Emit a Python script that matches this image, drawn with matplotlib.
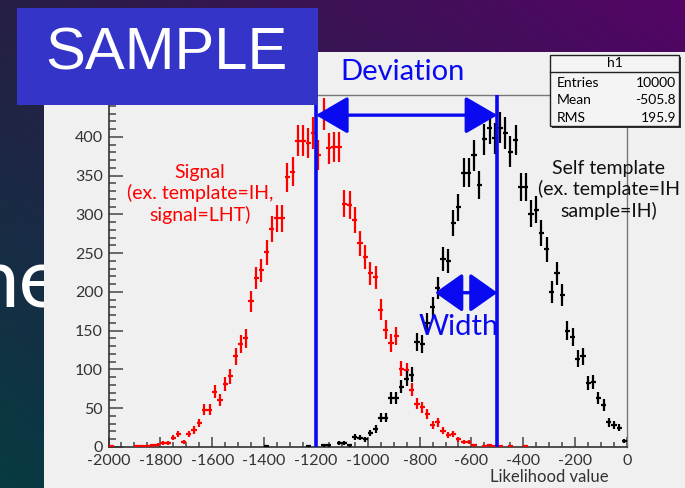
import numpy as np
import matplotlib.pyplot as plt
from matplotlib.patches import Rectangle
from matplotlib.lines import Line2D
from matplotlib.ticker import MultipleLocator

plt.rcParams['font.family'] = ['Lato', 'DejaVu Sans']
plt.rcParams['axes.unicode_minus'] = False

# histogram binning: 100 bins from -2000 to 0
bin_lo, bin_hi, n_bins = -2000, 0, 100

# counts per bin (first bin = -2000..-1980)
signal = [1, 0, 0, 0, 0, 1, 1, 1, 2, 3,
          5, 5, 12, 17, 7, 17, 22, 31, 48, 48,
          71, 60, 81, 91, 117, 133, 140, 188, 218, 228,
          251, 281, 295, 295, 348, 355, 395, 395, 392, 405,
          377, 430, 385, 387, 387, 314, 312, 293, 263, 245,
          224, 219, 177, 151, 134, 143, 101, 99, 74, 56,
          51, 42, 28, 32, 21, 15, 17, 10, 7, 7,
          2, 0, 1, 2, 1, 1, 0, 1, 0, 0,
          1, 0, 0, 0, 0, 0, 0, 0, 0, 0,
          0, 0, 0, 0, 0, 0, 0, 0, 0, 0]

self_template = [0, 0, 0, 0, 0, 0, 0, 0, 0, 0,
                 0, 0, 0, 0, 0, 0, 0, 0, 0, 0,
                 0, 0, 0, 0, 0, 0, 0, 0, 0, 0,
                 1, 0, 0, 0, 0, 0, 0, 0, 1, 0,
                 0, 2, 2, 0, 5, 5, 2, 13, 12, 10,
                 18, 23, 38, 38, 63, 63, 78, 88, 93, 136,
                 133, 160, 180, 205, 242, 240, 289, 309, 354, 354,
                 376, 338, 397, 411, 398, 412, 405, 381, 396, 335,
                 335, 301, 306, 276, 255, 200, 224, 196, 150, 142,
                 114, 117, 82, 84, 63, 54, 32, 28, 25, 8]

# annotation positions (data units)
dev_lo, dev_hi = -1200, -500
dev_arrow_y = 428
width_lo = -740
width_arrow_y = 199

stats_title = 'h1'
stats_names = ['Entries', 'Mean', 'RMS']
stats_values = ['10000', '-505.8', '195.9']

W, H = 685, 488
BLUE = '#0a0af0'
fig = plt.figure(figsize=(W / 100, H / 100), dpi=100)


def fx(px):
    return px / W


def fy(py):
    return 1 - py / H


# slide background
bg = fig.add_axes([0, 0, 1, 1], zorder=-5)
bg.set_xlim(0, W)
bg.set_ylim(H, 0)
bg.axis('off')
gx, gy = np.meshgrid(np.linspace(0, 1, 64), np.linspace(0, 1, 64))
gx, gy = gx[..., None], gy[..., None]
tl = np.array([0.15, 0.12, 0.27])
tr = np.array([0.33, 0.02, 0.40])
bl = np.array([0.03, 0.23, 0.26])
br = np.array([0.10, 0.10, 0.30])
img = tl * (1 - gx) * (1 - gy) + tr * gx * (1 - gy) + bl * (1 - gx) * gy + br * gx * gy
bg.imshow(img, extent=[0, W, H, 0], aspect='auto', interpolation='bilinear')
bg.text(63, 308, 'ne', color='white', fontsize=60, ha='right', va='baseline', zorder=2)
bg.add_patch(Rectangle((44, 52), W - 44, H - 52, fc='#f0f0f0', ec='none', zorder=5))

# histogram axes
ax = fig.add_axes([fx(108.5), fy(447), (627 - 108.5) / W, (447 - 95) / H])
ax.patch.set_visible(False)

edges = np.linspace(bin_lo, bin_hi, n_bins + 1)
centers = 0.5 * (edges[:-1] + edges[1:])
half = 0.5 * (edges[1] - edges[0])
for counts, col in [(signal, '#ff0000'), (self_template, 'black')]:
    c = np.array(counts, dtype=float)
    m = c > 0
    ax.errorbar(centers[m], c[m], yerr=np.sqrt(c[m]), xerr=half, fmt='none',
                ecolor=col, elinewidth=1.6, capsize=0, zorder=3)

ax.set_xlim(bin_lo, bin_hi)
ax.set_ylim(0, 454)

ax.axvline(dev_lo, color=BLUE, lw=2.6, zorder=4)
ax.axvline(dev_hi, color=BLUE, lw=2.6, zorder=4)
ax.annotate('', xy=(dev_lo, dev_arrow_y), xytext=(dev_hi, dev_arrow_y),
            arrowprops=dict(arrowstyle='<|-|>,head_length=1.0,head_width=0.58',
                            mutation_scale=20, color=BLUE, lw=2.4,
                            shrinkA=0, shrinkB=0), zorder=5)
ax.annotate('', xy=(width_lo, width_arrow_y), xytext=(dev_hi, width_arrow_y),
            arrowprops=dict(arrowstyle='<|-|>,head_length=0.85,head_width=0.6',
                            mutation_scale=20, color=BLUE, lw=2.4,
                            shrinkA=0, shrinkB=0), zorder=5)

ax.xaxis.set_major_locator(MultipleLocator(200))
ax.xaxis.set_minor_locator(MultipleLocator(50))
ax.yaxis.set_major_locator(MultipleLocator(50))
ax.yaxis.set_minor_locator(MultipleLocator(10))
ax.tick_params(axis='both', which='both', direction='in', colors='#444444',
               labelcolor='#333333', labelsize=11.5, width=1.1)
ax.tick_params(axis='x', which='major', length=7.5, pad=5)
ax.tick_params(axis='x', which='minor', length=3.8)
ax.tick_params(axis='y', which='major', length=10, pad=4)
ax.tick_params(axis='y', which='minor', length=5)
for s in ['left', 'bottom']:
    ax.spines[s].set_color('#333333')
    ax.spines[s].set_linewidth(1.2)
for s in ['top', 'right']:
    ax.spines[s].set_color('#777777')
    ax.spines[s].set_linewidth(1.0)

fig.text(fx(609), fy(477), 'Likelihood value', ha='right', va='center',
         fontsize=12, color='#333333')

# labels
fig.text(fx(403), fy(72), 'Deviation', ha='center', va='center', fontsize=21, color=BLUE)
fig.text(fx(459), fy(327), 'Width', ha='center', va='center', fontsize=21, color=BLUE)
fig.text(fx(200), fy(194), 'Signal\n(ex. template=IH,\nsignal=LHT)', ha='center',
         va='center', fontsize=14, color='#ff0000', linespacing=1.25)
fig.text(fx(609), fy(190), 'Self template\n(ex. template=IH\nsample=IH)', ha='center',
         va='center', fontsize=14, color='#111111', linespacing=1.25)

# stats box
fig.add_artist(Rectangle((fx(552), fy(128)), fx(679) - fx(550), fy(55) - fy(126),
                         transform=fig.transFigure, fc='#333333', ec='none', zorder=5))
fig.add_artist(Rectangle((fx(550), fy(126)), fx(679) - fx(550), fy(55) - fy(126),
                         transform=fig.transFigure, fc='#f4f4f4', ec='#222222',
                         lw=1.0, zorder=6))
fig.add_artist(Line2D([fx(550), fx(679)], [fy(71.5), fy(71.5)], transform=fig.transFigure,
                      color='#222222', lw=1.0, zorder=7))
fig.text(fx(615), fy(63), stats_title, ha='center', va='center', fontsize=10, zorder=8)
for i, (name, val) in enumerate(zip(stats_names, stats_values)):
    yy = fy(83 + 17.5 * i)
    fig.text(fx(557), yy, name, ha='left', va='center', fontsize=10, zorder=8)
    fig.text(fx(676), yy, val, ha='right', va='center', fontsize=10, zorder=8)

# SAMPLE banner
fig.add_artist(Rectangle((fx(17), fy(105)), fx(318) - fx(17), fy(8) - fy(105),
                         transform=fig.transFigure, fc='#3434c8', ec='none', zorder=9))
fig.text(fx(166), fy(54), 'SAMPLE', ha='center', va='center', fontsize=43,
         color='white', family=['Liberation Sans', 'DejaVu Sans'], zorder=10)

fig.savefig('out.png', dpi=100)
